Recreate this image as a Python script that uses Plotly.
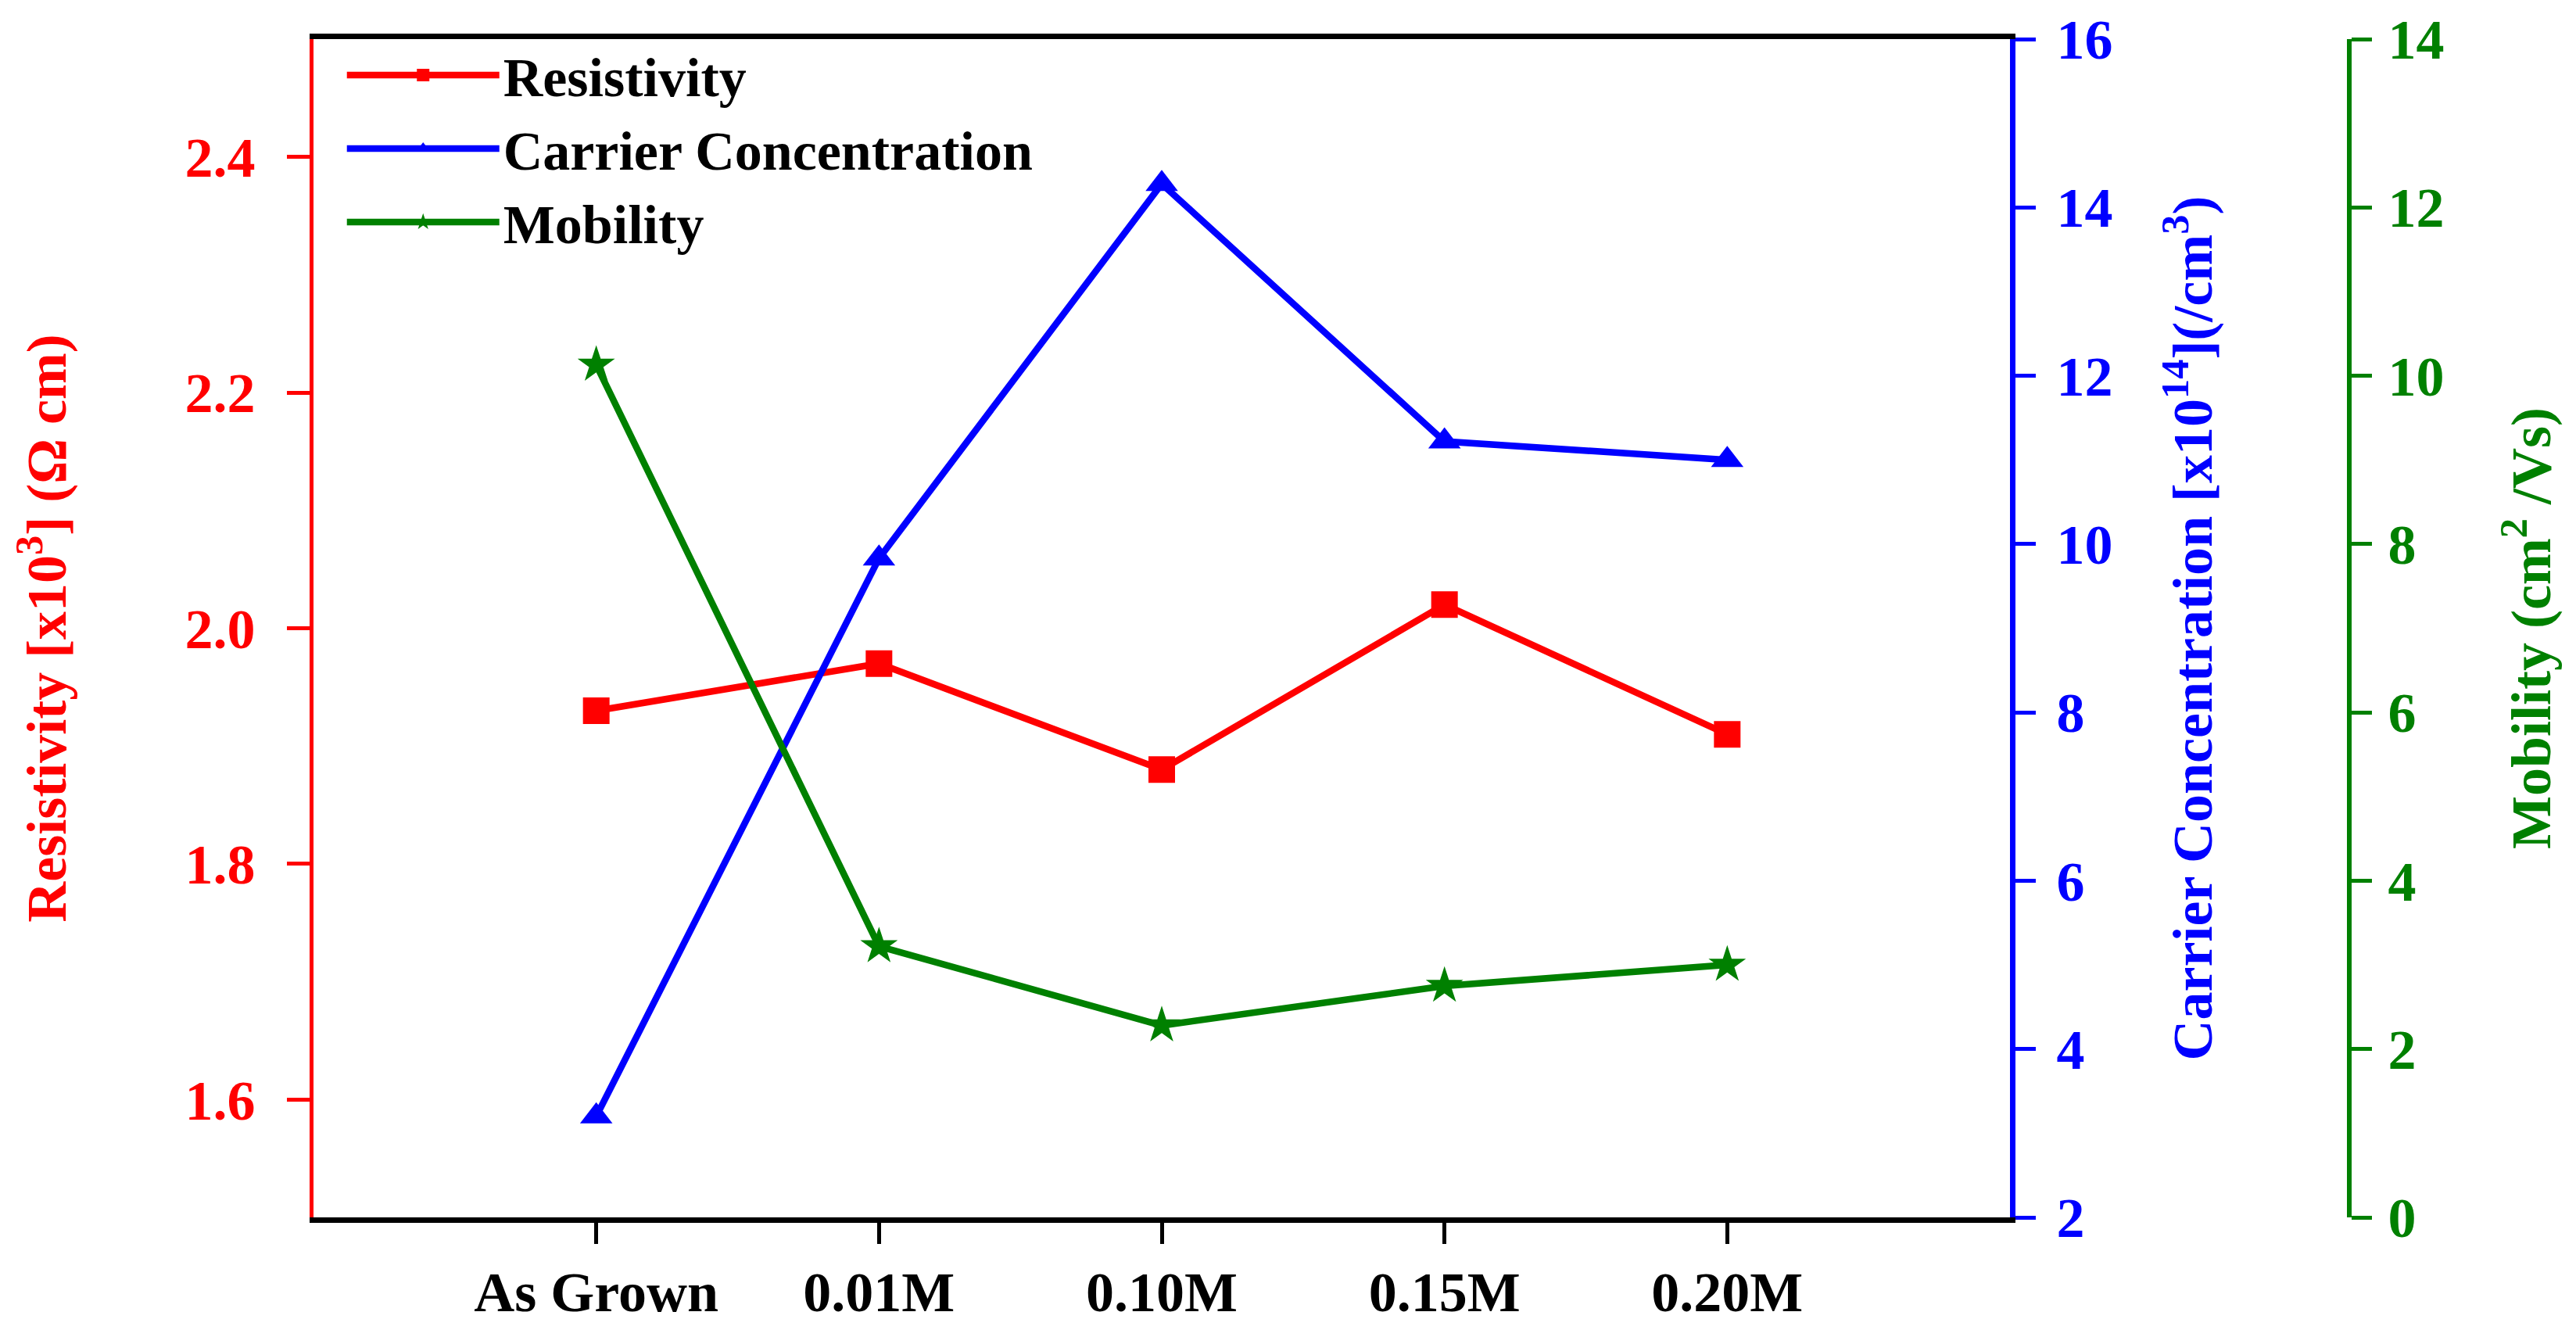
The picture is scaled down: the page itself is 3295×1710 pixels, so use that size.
import plotly.graph_objects as go

categories = ["As Grown", "0.01M", "0.10M", "0.15M", "0.20M"]
resistivity = [1.93, 1.97, 1.88, 2.02, 1.91]
carrier = [3.2, 9.83, 14.28, 11.22, 11.0]
mobility = [10.13, 3.22, 2.28, 2.75, 3.0]

RED = "#FF0000"
BLUE = "#0000FF"
GREEN = "#008000"
FONT = "Liberation Serif"

W, H = 3295, 1710
L, R, T, B = 393, 0, 42, 161
pw = W - L - R
x_end = (2563 - L) / pw
y3_pos = (2997 - L) / pw


def tf(color, size=72):
    return dict(family=FONT, size=size, color=color, weight="bold")


fig = go.Figure()
fig.add_trace(go.Scatter(x=categories, y=resistivity, name="Resistivity",
                         mode="lines+markers", yaxis="y",
                         line=dict(color=RED, width=8.5),
                         marker=dict(symbol="square", size=34, color=RED)))
fig.add_trace(go.Scatter(x=categories, y=carrier, name="Carrier Concentration",
                         mode="lines+markers", yaxis="y2",
                         line=dict(color=BLUE, width=8.5),
                         marker=dict(symbol="triangle-up", size=36, color=BLUE)))
fig.add_trace(go.Scatter(x=categories, y=mobility, name="Mobility",
                         mode="lines+markers", yaxis="y3",
                         line=dict(color=GREEN, width=8.5),
                         marker=dict(symbol="star", size=36, color=GREEN)))

fig.update_layout(
    width=W, height=H,
    margin=dict(l=L, r=R, t=T, b=B, autoexpand=False),
    paper_bgcolor="white", plot_bgcolor="white",
    font=dict(family=FONT, color="black"),
    showlegend=True,
    legend=dict(x=0.013, y=1.004, xanchor="left", yanchor="top",
                font=tf("black", 70), itemwidth=195,
                bgcolor="rgba(0,0,0,0)", tracegroupgap=0),
    xaxis=dict(domain=[0, x_end], type="category", range=[-1, 5],
               showline=True, linecolor="black", linewidth=7, mirror=True,
               ticks="outside", ticklen=27, tickwidth=5, tickcolor="black",
               tickfont=tf("black", 72), ticklabelstandoff=0,
               showgrid=False, zeroline=False),
    yaxis=dict(range=[1.5, 2.5], tickvals=[1.6, 1.8, 2.0, 2.2, 2.4],
               tickformat=".1f",
               showline=True, linecolor=RED, linewidth=5,
               ticks="outside", ticklen=29, tickwidth=5, tickcolor=RED,
               tickfont=tf(RED), ticklabelstandoff=26,
               title=dict(text="Resistivity [x10<sup>3</sup>] (Ω cm)",
                          font=tf(RED, 72), standoff=130),
               showgrid=False, zeroline=False),
    yaxis2=dict(range=[2, 16], tickvals=[2, 4, 6, 8, 10, 12, 14, 16],
                overlaying="y", side="right", anchor="x",
                showline=True, linecolor=BLUE, linewidth=7,
                ticks="outside", ticklen=26, tickwidth=5, tickcolor=BLUE,
                tickfont=tf(BLUE), ticklabelstandoff=12,
                title=dict(text="Carrier Concentration [x10<sup>14</sup>](/cm<sup>3</sup>)",
                           font=tf(BLUE, 72), standoff=80),
                showgrid=False, zeroline=False),
    yaxis3=dict(range=[0, 14], tickvals=[0, 2, 4, 6, 8, 10, 12, 14],
                overlaying="y", side="right", anchor="free", position=y3_pos,
                showline=True, linecolor=GREEN, linewidth=6,
                ticks="outside", ticklen=26, tickwidth=5, tickcolor=GREEN,
                tickfont=tf(GREEN), ticklabelstandoff=6,
                title=dict(text="Mobility (cm<sup>2</sup> /Vs)",
                           font=tf(GREEN, 72), standoff=85),
                showgrid=False, zeroline=False),
)

fig.write_html("out.html")
